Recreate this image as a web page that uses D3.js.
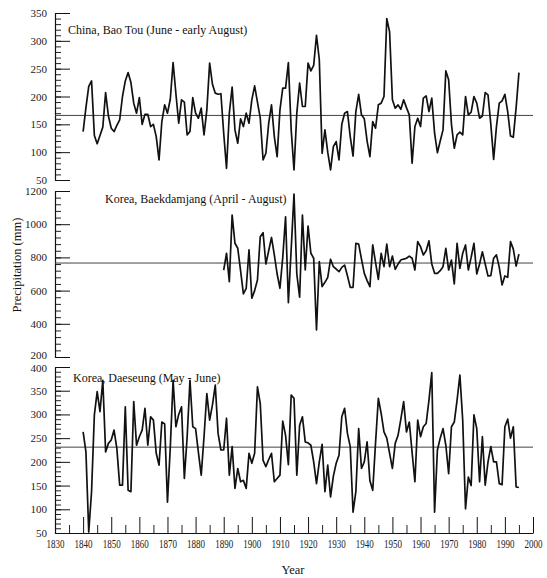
<!DOCTYPE html>
<html>
<head>
<meta charset="utf-8">
<script src="https://cdn.jsdelivr.net/npm/d3@7"></script>
<style>
  body { margin: 0; background: #fff; }
  svg { display: block; }
</style>
</head>
<body>
<div id="chart"></div>
<script>
// series (annual precipitation, mm)
const baoTouStart = 1840;
const baoTou = [
  137, 180, 218, 228, 130, 115, 130, 145, 207, 165,
  143, 137, 148, 158, 200, 228, 243, 225, 188, 170,
  198, 150, 168, 168, 146, 150, 128, 86, 155, 185,
  170, 195, 261, 205, 152, 194, 190, 131, 137, 198,
  170, 161, 179, 131, 176, 260, 222, 206, 204, 205,
  134, 71, 170, 217, 140, 116, 160, 146, 170, 152,
  194, 219, 190, 161, 86, 98, 152, 185, 128, 92,
  176, 215, 215, 261, 140, 68, 170, 224, 182, 182,
  260, 246, 256, 310, 266, 98, 140, 100, 68, 110,
  119, 86, 150, 170, 173, 128, 93, 173, 204, 167,
  160, 120, 92, 155, 143, 185, 188, 200, 340, 316,
  194, 179, 185, 177, 194, 180, 167, 80, 146, 161,
  146, 197, 201, 173, 197, 134, 99, 120, 140, 246,
  230, 150, 107, 131, 136, 131, 200, 167, 172, 200,
  188, 161, 165, 207, 203, 150, 87, 146, 188, 192,
  204, 173, 129, 127, 180, 243
];

const baekdamjangStart = 1890;
const baekdamjang = [
  724, 825, 654, 1055, 885, 855, 720, 580, 614, 845,
  554, 600, 664, 925, 949, 760, 840, 920, 815, 700,
  614, 800, 1045, 527, 850, 1182, 700, 560, 1055, 724,
  989, 825, 795, 363, 774, 624, 650, 680, 789, 744,
  730, 714, 740, 754, 690, 620, 620, 885, 880, 790,
  704, 660, 624, 875, 770, 668, 825, 744, 880, 744,
  808, 728, 760, 784, 790, 795, 808, 795, 724, 895,
  865, 815, 840, 900, 760, 704, 704, 720, 744, 855,
  724, 784, 640, 885, 734, 825, 875, 724, 800, 885,
  700, 760, 834, 760, 688, 690, 795, 815, 740, 634,
  688, 680, 895, 850, 748, 820
];

const daeseungStart = 1840;
const daeseung = [
  263, 221, 52, 137, 299, 348, 306, 372, 221, 239,
  246, 267, 228, 151, 151, 316, 140, 137, 327, 235,
  253, 267, 313, 235, 295, 288, 218, 193, 284, 280,
  115, 230, 372, 274, 300, 316, 165, 253, 372, 274,
  270, 220, 172, 253, 344, 288, 320, 362, 260, 225,
  225, 292, 172, 232, 144, 186, 158, 161, 144, 218,
  197, 218, 358, 323, 203, 190, 205, 218, 158, 165,
  172, 286, 256, 194, 341, 334, 172, 277, 295, 242,
  240, 235, 200, 154, 200, 237, 137, 193, 126, 170,
  197, 214, 295, 313, 260, 232, 94, 137, 270, 186,
  200, 242, 160, 140, 240, 334, 302, 263, 250, 218,
  186, 239, 256, 290, 327, 263, 284, 220, 158, 288,
  253, 274, 281, 330, 388, 94, 225, 250, 270, 235,
  175, 274, 284, 330, 383, 288, 101, 168, 150, 299,
  270, 158, 253, 151, 200, 232, 200, 200, 154, 152,
  274, 290, 250, 274, 147, 146
];

const means = [166, 766, 231];
const titles = [
  "China, Bao Tou (June - early August)",
  "Korea, Baekdamjang (April - August)",
  "Korea, Daeseung (May - June)"
];
const yearTicks = d3.range(1830, 2001, 10);

const width = 547, height = 578;
const xLeft = 55, xRight = 533;

const svg = d3.select("#chart").append("svg")
  .attr("width", width)
  .attr("height", height)
  .style("font-family", "'Liberation Serif', 'DejaVu Serif', serif");

const x = d3.scaleLinear().domain([1830, 2000]).range([xLeft, xRight]);

// one entry per panel: values, y domain, pixel extent, tick steps
const panels = [
  { values: baoTou, start: baoTouStart, domain: [50, 350], top: 13, bottom: 180, major: 50, minor: 10, titleX: 68, titleY: 34 },
  { values: baekdamjang, start: baekdamjangStart, domain: [200, 1200], top: 191, bottom: 357, major: 200, minor: 40, titleX: 105, titleY: 203 },
  { values: daeseung, start: daeseungStart, domain: [50, 400], top: 367, bottom: 533, major: 50, minor: 10, titleX: 73, titleY: 382 }
];

panels.forEach((p, i) => {
  const y = d3.scaleLinear().domain(p.domain).range([p.bottom, p.top]);
  const g = svg.append("g");

  // minor ticks
  g.append("g")
    .attr("transform", "translate(" + xLeft + ",0)")
    .call(d3.axisLeft(y)
      .tickValues(d3.range(p.domain[0], p.domain[1] + 0.1, p.minor))
      .tickSizeInner(-6).tickSizeOuter(0).tickFormat(""))
    .call(a => a.select(".domain").remove())
    .selectAll("line").attr("stroke", "#222");

  // major ticks + labels
  g.append("g")
    .attr("transform", "translate(" + xLeft + ",0)")
    .call(d3.axisLeft(y)
      .tickValues(d3.range(p.domain[0], p.domain[1] + 0.1, p.major))
      .tickSizeInner(-15).tickSizeOuter(0).tickPadding(8)
      .tickFormat(d3.format("d")))
    .call(a => a.select(".domain").attr("stroke", "#111").attr("stroke-width", 1.2))
    .call(a => a.selectAll("line").attr("stroke", "#111"))
    .call(a => a.selectAll("text")
      .style("font-size", "11px")
      .attr("fill", "#222")
      .style("font-family", "'Liberation Serif', serif"));

  // the 200 / 400 labels of the lower two panels sit almost on top of each other
  if (i === 1) g.selectAll(".tick text").filter(d => d === 200).attr("dy", "0.1em");
  if (i === 2) g.selectAll(".tick text").filter(d => d === 400).attr("dy", "0.45em");

  // long-term mean
  g.append("line")
    .attr("x1", xLeft).attr("x2", xRight)
    .attr("y1", y(means[i])).attr("y2", y(means[i]))
    .attr("stroke", "#444")
    .attr("stroke-width", 1);

  // series
  const line = d3.line()
    .x((d, j) => x(p.start + j))
    .y(d => y(d));

  g.append("path")
    .datum(p.values)
    .attr("d", line)
    .attr("fill", "none")
    .attr("stroke", "#111")
    .attr("stroke-width", 1.7)
    .attr("stroke-linejoin", "round");

  g.append("text")
    .attr("x", p.titleX)
    .attr("y", p.titleY)
    .style("font-size", "12px")
    .attr("fill", "#111")
    .text(titles[i]);
});

// year axis at the bottom
const xAxisY = panels[2].bottom;
svg.append("g")
  .attr("transform", "translate(0," + xAxisY + ")")
  .call(d3.axisBottom(x)
    .tickValues(d3.range(1835, 2000, 10))
    .tickSizeInner(-8).tickSizeOuter(0).tickFormat(""))
  .call(a => a.select(".domain").remove())
  .selectAll("line").attr("stroke", "#222");

svg.append("g")
  .attr("transform", "translate(0," + xAxisY + ")")
  .call(d3.axisBottom(x)
    .tickValues(yearTicks)
    .tickSizeInner(-16).tickSizeOuter(0).tickPadding(6)
    .tickFormat(d3.format("d")))
  .call(a => a.select(".domain").attr("stroke", "#111").attr("stroke-width", 1.2))
  .call(a => a.selectAll("line").attr("stroke", "#111"))
  .call(a => a.selectAll("text")
    .style("font-size", "12px")
    .attr("fill", "#222")
    .attr("textLength", 18)
    .attr("lengthAdjust", "spacingAndGlyphs")
    .style("font-family", "'Liberation Serif', serif"));

svg.append("text")
  .attr("x", 293)
  .attr("y", 574)
  .attr("text-anchor", "middle")
  .style("font-size", "12.5px")
  .attr("fill", "#111")
  .text("Year");

svg.append("text")
  .attr("transform", "translate(21,265) rotate(-90)")
  .attr("text-anchor", "middle")
  .style("font-size", "12.5px")
  .attr("fill", "#111")
  .text("Precipitation (mm)");
</script>
</body>
</html>
